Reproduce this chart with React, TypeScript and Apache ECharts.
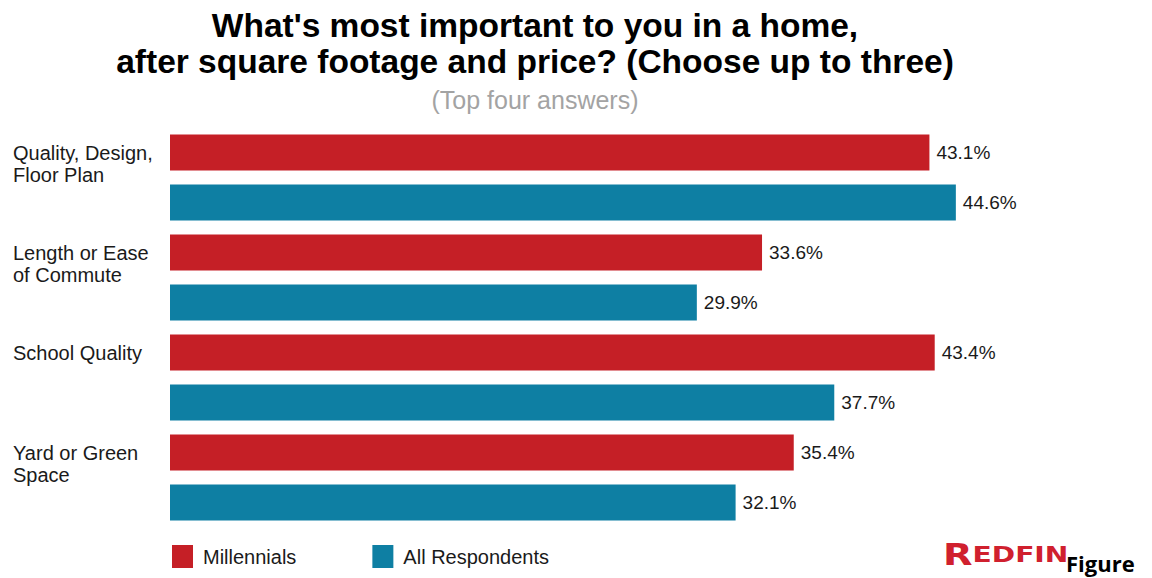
import React, { useEffect, useRef } from "react";
import * as echarts from "echarts";

const categories = [
  "Quality, Design,\nFloor Plan",
  "Length or Ease\nof Commute",
  "School Quality",
  "Yard or Green\nSpace",
];
const millennials = [43.1, 33.6, 43.4, 35.4];
const allRespondents = [44.6, 29.9, 37.7, 32.1];
const seriesNames = ["Millennials", "All Respondents"];

const RED = "#c51f26";
const BLUE = "#0e7fa3";

export default function App() {
  const ref = useRef<HTMLDivElement>(null);
  useEffect(() => {
    if (!ref.current) return;
    const chart = echarts.init(ref.current, null, { renderer: "svg" });

    const rows: string[] = [];
    const labelOf: Record<string, string> = {};
    const redData: (number | string)[] = [];
    const blueData: (number | string)[] = [];
    categories.forEach((c, i) => {
      rows.push(`r${i}a`);
      labelOf[`r${i}a`] = c;
      rows.push(`r${i}b`);
      labelOf[`r${i}b`] = "";
      redData.push(millennials[i], "-");
      blueData.push("-", allRespondents[i]);
    });

    const labelStyle = {
      show: true,
      position: "right" as const,
      distance: 7,
      color: "#1a1a1a",
      fontSize: 19,
      fontFamily: "Liberation Sans, Arial, sans-serif",
      formatter: (p: any) => `${Number(p.value).toFixed(1)}%`,
    };

    chart.setOption({
      animation: false,
      backgroundColor: "#ffffff",
      title: {
        text: "What's most important to you in a home,\nafter square footage and price? (Choose up to three)",
        subtext: "(Top four answers)",
        left: 535,
        top: 7,
        padding: 0,
        textAlign: "center",
        itemGap: 8,
        textStyle: {
          fontFamily: "Liberation Sans, Arial, sans-serif",
          fontWeight: "bold",
          fontSize: 33.5,
          lineHeight: 36,
          color: "#000000",
        },
        subtextStyle: {
          fontFamily: "Liberation Sans, Arial, sans-serif",
          fontSize: 25,
          color: "#a3a3a3",
        },
      },
      legend: {
        left: 172,
        top: 545,
        padding: 0,
        itemWidth: 21,
        itemHeight: 23,
        itemGap: 76,
        icon: "rect",
        textStyle: {
          fontSize: 20,
          color: "#1a1a1a",
          fontFamily: "Liberation Sans, Arial, sans-serif",
          padding: [0, 0, 0, 5],
        },
        data: seriesNames,
      },
      grid: { left: 170, top: 127.5, height: 400, width: 881 },
      xAxis: {
        type: "value",
        min: 0,
        max: 50,
        show: false,
        splitLine: { show: false },
      },
      yAxis: {
        type: "category",
        inverse: true,
        data: rows,
        axisLine: { show: false },
        axisTick: { show: false },
        axisLabel: {
          align: "left",
          margin: 157,
          fontSize: 20,
          lineHeight: 22,
          color: "#1a1a1a",
          fontFamily: "Liberation Sans, Arial, sans-serif",
          formatter: (v: string) => {
            const t = labelOf[v] || "";
            return t.includes("\n") ? "\n" + t : t;
          },
        },
      },
      series: [
        {
          name: seriesNames[0],
          type: "bar",
          data: redData,
          barWidth: 36,
          barGap: "-100%",
          itemStyle: { color: RED },
          label: labelStyle,
        },
        {
          name: seriesNames[1],
          type: "bar",
          data: blueData,
          barWidth: 36,
          barGap: "-100%",
          itemStyle: { color: BLUE },
          label: labelStyle,
        },
      ],
      graphic: [
        {
          type: "text",
          left: 943,
          top: 540,
          scaleX: 1.28,
          style: {
            text: "{r|R}{e|EDFIN}",
            rich: {
              r: { fontSize: 30, fontWeight: "bold", fill: "#d0202e", fontFamily: "DejaVu Sans, sans-serif" },
              e: { fontSize: 22, fontWeight: "bold", fill: "#d0202e", fontFamily: "DejaVu Sans, sans-serif" },
            },
          },
        },
        {
          type: "text",
          left: 1066,
          top: 552,
          style: {
            text: "Figure",
            fontSize: 22,
            fontWeight: "bold",
            fill: "#000000",
            fontFamily: "Open Sans, sans-serif",
          },
        },
      ],
    });
    return () => chart.dispose();
  }, []);
  return (
    <div
      ref={ref}
      style={{ position: "fixed", left: 0, top: 0, width: 1152, height: 578 }}
    />
  );
}
